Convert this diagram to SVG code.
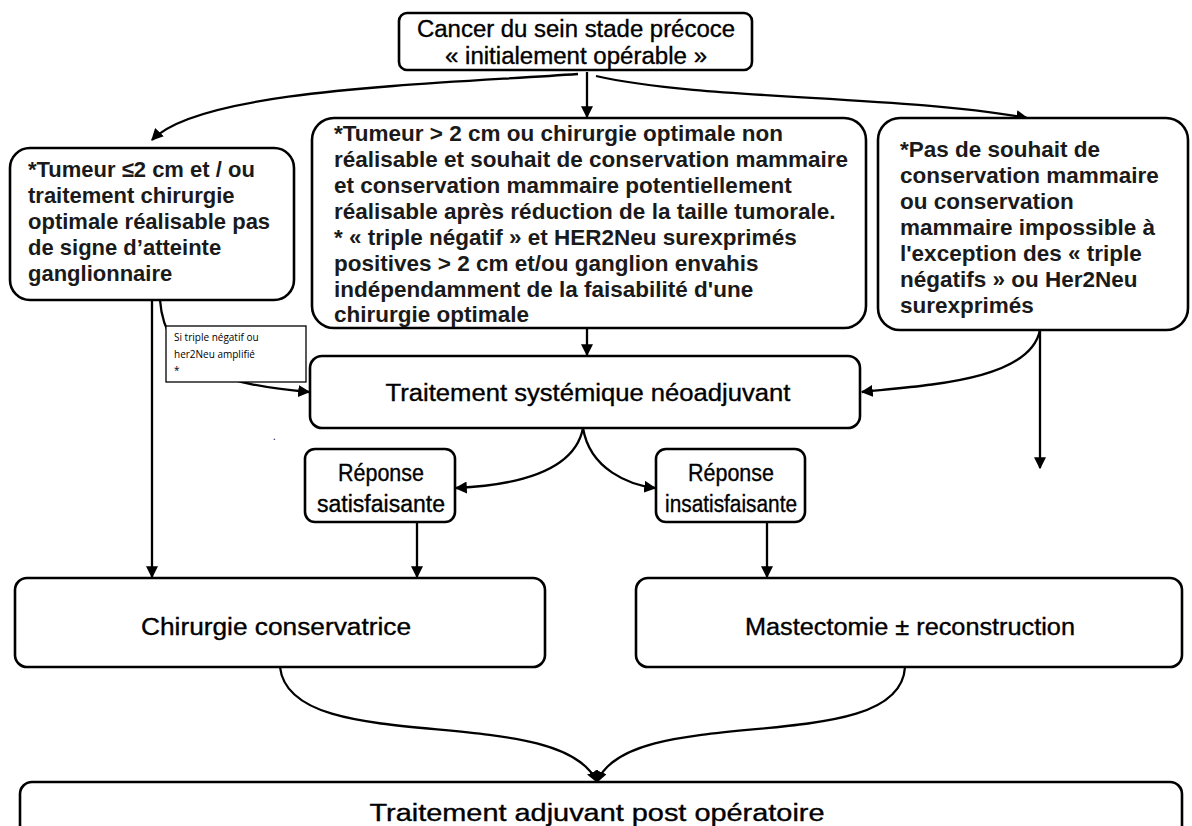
<svg xmlns="http://www.w3.org/2000/svg" width="1192" height="826" viewBox="0 0 1192 826">
<defs>
<marker id="ah" viewBox="0 0 10 10" refX="9" refY="5" markerWidth="12" markerHeight="12" markerUnits="userSpaceOnUse" orient="auto">
<path d="M0,0 L10,5 L0,10 z" fill="#000"/>
</marker>
</defs>
<style>
.box{fill:#fff;stroke:#000;stroke-width:2.6}
.note{fill:#fff;stroke:#000;stroke-width:1.3}
.b{font-family:"Liberation Sans",Arial,sans-serif;font-weight:bold;fill:#1a1a1a}
.n{font-family:"Liberation Sans",Arial,sans-serif;font-size:23px;fill:#000;stroke:#000;stroke-width:0.35}
.c{text-anchor:middle}
.s{font-family:"Open Sans","Liberation Sans",sans-serif;font-size:10px;fill:#000}
.ln{fill:none;stroke:#000;stroke-width:2.3}
</style>
<rect width="1192" height="826" fill="#fff"/>
<g id="connectors">
<path class="ln" d="M578,74 C420,85 200,90 152,140" marker-end="url(#ah)"/>
<path class="ln" d="M587,72 L587,117" marker-end="url(#ah)"/>
<path class="ln" d="M596,76 C700,100 900,95 1027,118" marker-end="url(#ah)"/>
<path class="ln" d="M587,328 L587,355" marker-end="url(#ah)"/>
<path class="ln" d="M152,300 L152,577" marker-end="url(#ah)"/>
<path class="ln" d="M160,300 C165,370 230,385 309,392" marker-end="url(#ah)"/>
<path class="ln" d="M1040,330 L1040,468" marker-end="url(#ah)"/>
<path class="ln" d="M1040,330 C1030,380 930,385 862,392" marker-end="url(#ah)"/>
<path class="ln" d="M583,428 C575,470 520,485 456,488" marker-end="url(#ah)"/>
<path class="ln" d="M583,428 C590,470 630,485 655,488" marker-end="url(#ah)"/>
<path class="ln" d="M417,522 L417,577" marker-end="url(#ah)"/>
<path class="ln" d="M767,522 L767,577" marker-end="url(#ah)"/>
<path class="ln" d="M280,667 C290,760 560,700 597,782" marker-end="url(#ah)"/>
<path class="ln" d="M905,667 C900,760 630,700 597,782" marker-end="url(#ah)"/>
</g>
<g id="top">
<rect class="box" x="399" y="13" width="353" height="57" rx="8"/>
<text class="n c" x="576" y="37" textLength="318" lengthAdjust="spacingAndGlyphs">Cancer du sein stade précoce</text>
<text class="n c" x="576" y="64" textLength="262" lengthAdjust="spacingAndGlyphs">« initialement opérable »</text>
</g>
<g id="left">
<rect class="box" x="10" y="148" width="284" height="152" rx="20"/>
<text class="b" x="28" y="177" font-size="22">*Tumeur ≤2 cm et / ou</text>
<text class="b" x="28" y="203" font-size="22">traitement chirurgie</text>
<text class="b" x="28" y="229" font-size="22">optimale réalisable pas</text>
<text class="b" x="28" y="255" font-size="22">de signe d’atteinte</text>
<text class="b" x="28" y="281" font-size="22">ganglionnaire</text>
</g>
<g id="middle">
<rect class="box" x="312" y="118" width="554" height="210" rx="22"/>
<text class="b" x="334" y="141" font-size="22.5">*Tumeur &gt; 2 cm ou chirurgie optimale non</text>
<text class="b" x="334" y="167" font-size="22.5">réalisable et souhait de conservation mammaire</text>
<text class="b" x="334" y="193" font-size="22.5">et conservation mammaire potentiellement</text>
<text class="b" x="334" y="219" font-size="22.5">réalisable après réduction de la taille tumorale.</text>
<text class="b" x="334" y="245" font-size="22.5">* « triple négatif » et HER2Neu surexprimés</text>
<text class="b" x="334" y="271" font-size="22.5">positives &gt; 2 cm et/ou ganglion envahis</text>
<text class="b" x="334" y="297" font-size="22.5">indépendamment de la faisabilité d'une</text>
<text class="b" x="334" y="322" font-size="22.5">chirurgie optimale</text>
</g>
<g id="right">
<rect class="box" x="878" y="118" width="310" height="212" rx="22"/>
<text class="b" x="900" y="157" font-size="22.5">*Pas de souhait de</text>
<text class="b" x="900" y="183" font-size="22.5">conservation mammaire</text>
<text class="b" x="900" y="209" font-size="22.5">ou conservation</text>
<text class="b" x="900" y="235" font-size="22.5">mammaire impossible à</text>
<text class="b" x="900" y="261" font-size="22.5">l'exception des « triple</text>
<text class="b" x="900" y="287" font-size="22.5">négatifs » ou Her2Neu</text>
<text class="b" x="900" y="313" font-size="22.5">surexprimés</text>
</g>
<g id="note">
<rect class="note" x="166" y="326" width="140" height="56"/>
<text class="s" x="174" y="341">Si triple négatif ou</text>
<text class="s" x="174" y="358">her2Neu amplifié</text>
<text class="s" x="174" y="374">*</text>
<text class="s" x="273" y="440">.</text>
</g>
<g id="neo">
<rect class="box" x="310" y="356" width="550" height="72" rx="12"/>
<text class="n c" x="588" y="401" textLength="405" lengthAdjust="spacingAndGlyphs">Traitement systémique  néoadjuvant</text>
</g>
<g id="repsat">
<rect class="box" x="305" y="449" width="150" height="73" rx="10"/>
<text class="n c" x="381" y="481" textLength="86" lengthAdjust="spacingAndGlyphs">Réponse</text>
<text class="n c" x="381" y="512" textLength="128" lengthAdjust="spacingAndGlyphs">satisfaisante</text>
</g>
<g id="repinsat">
<rect class="box" x="656" y="449" width="149" height="73" rx="10"/>
<text class="n c" x="731" y="481" textLength="86" lengthAdjust="spacingAndGlyphs">Réponse</text>
<text class="n c" x="731" y="512" textLength="132" lengthAdjust="spacingAndGlyphs">insatisfaisante</text>
</g>
<g id="chir">
<rect class="box" x="15" y="578" width="530" height="89" rx="12"/>
<text class="n c" x="276" y="635" textLength="270" lengthAdjust="spacingAndGlyphs">Chirurgie conservatrice</text>
</g>
<g id="mast">
<rect class="box" x="636" y="578" width="546" height="89" rx="12"/>
<text class="n c" x="910" y="635" textLength="330" lengthAdjust="spacingAndGlyphs">Mastectomie ± reconstruction</text>
</g>
<g id="adj">
<rect class="box" x="20" y="782" width="1162" height="60" rx="12"/>
<text class="n c" x="597" y="821" font-size="25" textLength="455" lengthAdjust="spacingAndGlyphs">Traitement adjuvant post opératoire</text>
</g>
</svg>
